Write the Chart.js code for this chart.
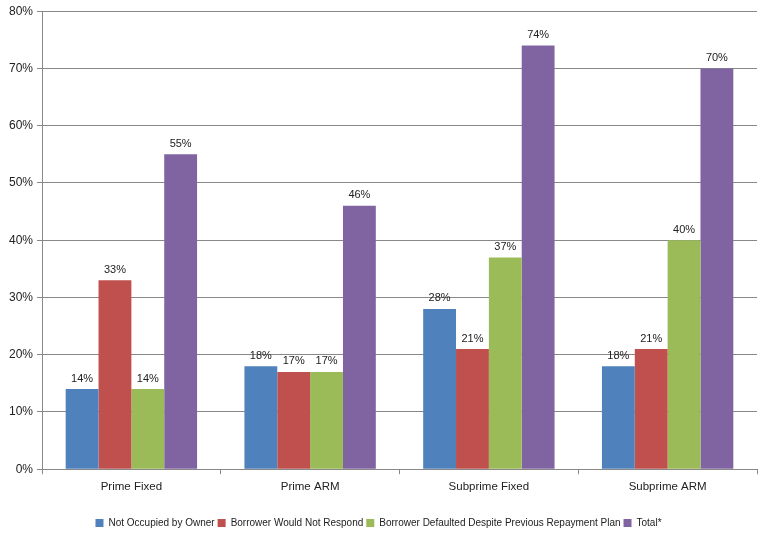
<!DOCTYPE html>
<html>
<head>
<meta charset="utf-8">
<script src="https://cdn.jsdelivr.net/npm/chart.js@4"></script>
<style>
  html, body { margin: 0; padding: 0; background: #fff; }
  #wrap { width: 759px; height: 533px; }
</style>
</head>
<body>
<div id="wrap"><canvas id="chart"></canvas></div>
<script>
// categorie e serie
var categories = ['Prime Fixed', 'Prime ARM', 'Subprime Fixed', 'Subprime ARM'];
var seriesNames = ['Not Occupied by Owner', 'Borrower Would Not Respond', 'Borrower Defaulted Despite Previous Repayment Plan', 'Total*'];
var notOccupied = [14, 18, 28, 18];
var wouldNotRespond = [33, 17, 21, 21];
var defaultedDespitePlan = [14, 17, 37, 40];
var total = [55, 46, 74, 70];
var seriesColors = ['#4F81BD', '#C0504D', '#9BBB59', '#8064A2'];

var font = "'Liberation Sans', Arial, sans-serif";

//plugin che scrive il valore sopra ogni barra
var valueLabels = {
  id: 'valueLabels',
  afterDatasetsDraw: function(chart) {
    var ctx = chart.ctx;
    ctx.save();
    ctx.font = '11px ' + font;
    ctx.fillStyle = '#222';
    ctx.textAlign = 'center';
    ctx.textBaseline = 'bottom';
    chart.data.datasets.forEach(function(ds, i) {
      chart.getDatasetMeta(i).data.forEach(function(bar, j) {
        ctx.fillText(ds.data[j] + '%', bar.x, bar.y - 5);
      });
    });
    ctx.restore();
  }
};

var allSeries = [notOccupied, wouldNotRespond, defaultedDespitePlan, total];
var datasets = allSeries.map(function(values, i) {
  return {
    label: seriesNames[i],
    data: values,
    backgroundColor: seriesColors[i],
    borderWidth: 0,
    categoryPercentage: 0.735,
    barPercentage: 1
  };
});

new Chart(document.getElementById('chart'), {
  type: 'bar',
  data: { labels: categories, datasets: datasets },
  plugins: [valueLabels],
  options: {
    responsive: true,
    maintainAspectRatio: false,
    animation: false,
    layout: { padding: { top: 5, right: 2, left: 0, bottom: -5 } },
    plugins: {
      tooltip: { enabled: false },
      legend: {
        position: 'bottom',
        labels: {
          boxWidth: 8,
          boxHeight: 8,
          padding: 3,
          color: '#222',
          font: { family: font, size: 10 }
        }
      }
    },
    scales: {
      x: {
        afterFit: function(scale) { scale.height += 15; },
        grid: { offset: true, drawOnChartArea: false, tickLength: 5, color: '#888' },
        border: { color: '#888' },
        ticks: { color: '#222', padding: 6, font: { family: font, size: 11.5 } }
      },
      y: {
        min: 0,
        max: 80,
        afterFit: function(scale) { scale.width = 42; },
        grid: { color: '#888', tickLength: 5 },
        border: { color: '#888' },
        ticks: {
          stepSize: 10,
          color: '#222',
          padding: 4,
          font: { family: font, size: 12 },
          callback: function(v) { return v + '%'; }
        }
      }
    }
  }
});
</script>
</body>
</html>
